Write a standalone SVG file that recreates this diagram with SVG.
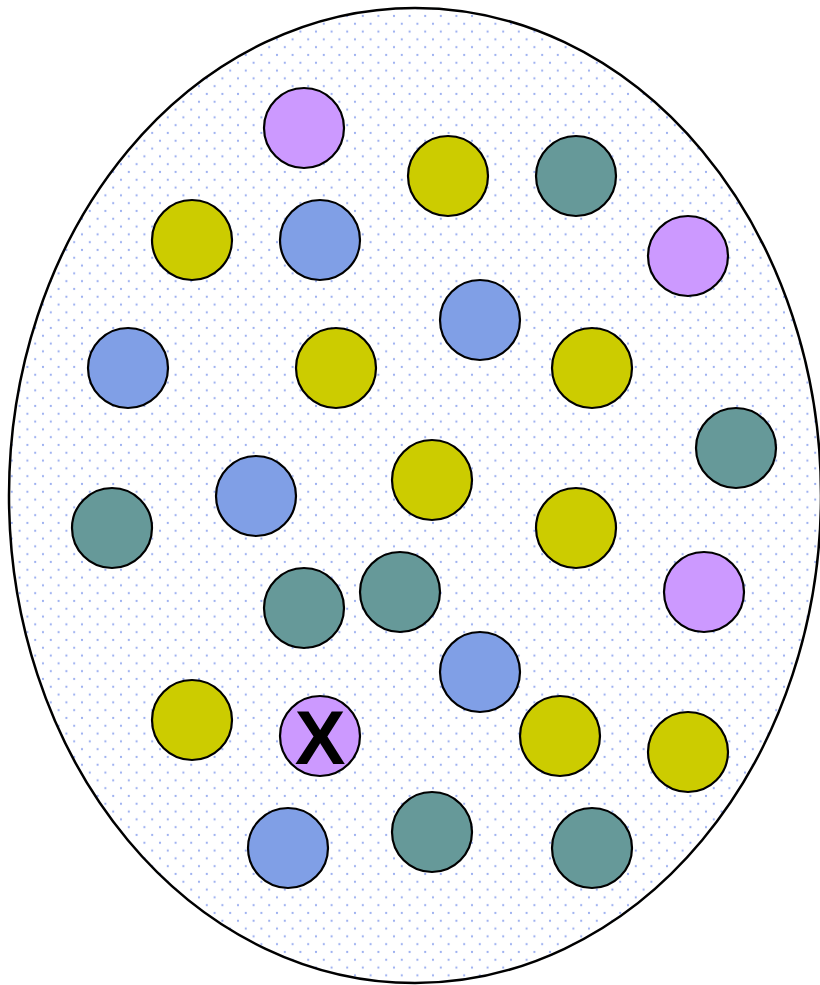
<svg xmlns="http://www.w3.org/2000/svg" width="820" height="985" viewBox="0 0 820 985">
<defs>
<pattern id="dots" patternUnits="userSpaceOnUse" x="4" y="0.4" width="15.6" height="15.6">
<circle cx="0" cy="0" r="1.1" fill="#9aaef0"/>
<circle cx="15.6" cy="0" r="1.1" fill="#9aaef0"/>
<circle cx="0" cy="15.6" r="1.1" fill="#9aaef0"/>
<circle cx="15.6" cy="15.6" r="1.1" fill="#9aaef0"/>
<circle cx="7.8" cy="7.8" r="1.1" fill="#9aaef0"/>
</pattern>
<style>
circle.n{stroke:#000;stroke-width:2.2}
.p{fill:#cc99ff}.y{fill:#cccc00}.t{fill:#669999}.b{fill:#809fe6}
text{font-family:"Liberation Sans",Arial,sans-serif;font-weight:bold}
</style>
</defs>
<rect width="820" height="985" fill="#fff"/>
<g id="ellipse"><ellipse cx="415" cy="495.5" rx="406" ry="487.5" fill="url(#dots)" stroke="#000" stroke-width="2.5"/></g>
<g id="connectors"/>
<g id="n1"><circle class="n p" cx="304" cy="128" r="40"/></g>
<g id="n2"><circle class="n y" cx="448" cy="176" r="40"/></g>
<g id="n3"><circle class="n t" cx="576" cy="176" r="40"/></g>
<g id="n4"><circle class="n y" cx="192" cy="240" r="40"/></g>
<g id="n5"><circle class="n b" cx="320" cy="240" r="40"/></g>
<g id="n6"><circle class="n p" cx="688" cy="256" r="40"/></g>
<g id="n7"><circle class="n b" cx="480" cy="320" r="40"/></g>
<g id="n8"><circle class="n b" cx="128" cy="368" r="40"/></g>
<g id="n9"><circle class="n y" cx="336" cy="368" r="40"/></g>
<g id="n10"><circle class="n y" cx="592" cy="368" r="40"/></g>
<g id="n11"><circle class="n t" cx="736" cy="448" r="40"/></g>
<g id="n12"><circle class="n y" cx="432" cy="480" r="40"/></g>
<g id="n13"><circle class="n b" cx="256" cy="496" r="40"/></g>
<g id="n14"><circle class="n t" cx="112" cy="528" r="40"/></g>
<g id="n15"><circle class="n y" cx="576" cy="528" r="40"/></g>
<g id="n16"><circle class="n t" cx="400" cy="592" r="40"/></g>
<g id="n17"><circle class="n t" cx="304" cy="608" r="40"/></g>
<g id="n18"><circle class="n p" cx="704" cy="592" r="40"/></g>
<g id="n19"><circle class="n b" cx="480" cy="672" r="40"/></g>
<g id="n20"><circle class="n y" cx="192" cy="720" r="40"/></g>
<g id="nX"><circle class="n p" cx="320" cy="736" r="40"/><text x="320" y="764" text-anchor="middle" font-size="76">X</text></g>
<g id="n22"><circle class="n y" cx="560" cy="736" r="40"/></g>
<g id="n23"><circle class="n y" cx="688" cy="752" r="40"/></g>
<g id="n24"><circle class="n b" cx="288" cy="848" r="40"/></g>
<g id="n25"><circle class="n t" cx="432" cy="832" r="40"/></g>
<g id="n26"><circle class="n t" cx="592" cy="848" r="40"/></g>
</svg>
